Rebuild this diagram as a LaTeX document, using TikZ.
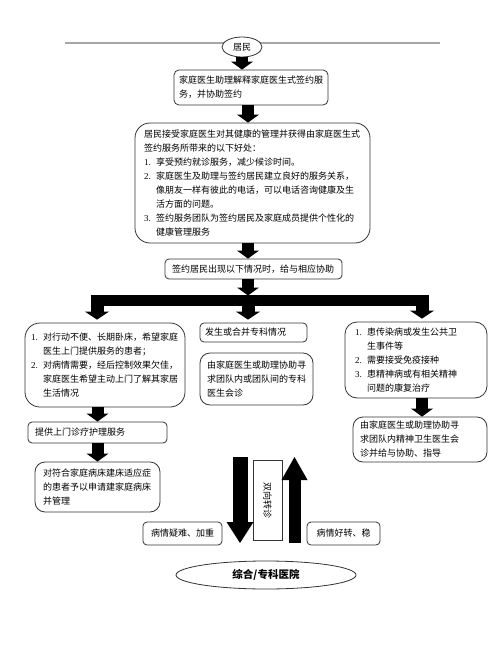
\documentclass[tikz,border=0pt]{standalone}
\usepackage{fontspec}
\setmainfont{Liberation Serif}
\newfontfamily\cjk{Noto Sans CJK SC}
\usetikzlibrary{arrows.meta,shapes.geometric}
\newcommand{\itm}[1]{\makebox[12pt][l]{\rmfamily #1}}
\newcommand{\itmpad}{\hspace*{12pt}}

\begin{document}
\begin{tikzpicture}[x=1pt, y=-1pt,
	info node/.style={draw=black!80, line width=0.8pt, align=left, inner ysep=2pt,
		font=\cjk\fontsize{9}{14}\selectfont},
	oval node/.style={ellipse, draw=black!80, line width=0.8pt, fill=white, inner sep=0pt},
	fat arrow/.style={line width=12pt, -{Triangle[length=8pt, width=22pt, line width=0pt]}},
	bar arrow/.style={line width=13pt, shorten >=3pt, -{Triangle[length=8pt, width=24pt, line width=0pt]}}]
	
	\useasboundingbox (0,0) rectangle (500,647);
	\draw[gray!70, line width=1.6pt] (65,43) -- (440,43);
	
	\node[oval node, minimum width=40pt, minimum height=20pt, font=\cjk\fontsize{9}{11}\selectfont] (1) at (242,47) {居民};
	\node[info node, rounded corners=5pt, text width=144pt, inner xsep=5pt, minimum height=35pt] (2) at (251,87.5)
		{家庭医生助理解释家庭医生式签约服\\务，并协助签约};
	\node[info node, rounded corners=15pt, text width=217pt, inner xsep=9pt, minimum height=120pt] (3) at (252.5,183)
		{居民接受家庭医生对其健康的管理并获得由家庭医生式\\签约服务所带来的以下好处：\\
		\itm{1.}享受预约就诊服务，减少候诊时间。\\
		\itm{2.}家庭医生及助理与签约居民建立良好的服务关系，\\
		\itmpad 像朋友一样有彼此的电话，可以电话咨询健康及生\\
		\itmpad 活方面的问题。\\
		\itm{3.}签约服务团队为签约居民及家庭成员提供个性化的\\
		\itmpad 健康管理服务};
	\node[info node, rounded corners=4pt, text width=163pt, inner xsep=7pt, minimum height=20pt] (4) at (253.5,269)
		{签约居民出现以下情况时，给与相应协助};
	
	% branches
	\node[info node, rounded corners=15pt, text width=148pt, inner xsep=6pt, minimum height=84pt] (5) at (105,365)
		{\itm{1.}对行动不便、长期卧床，希望家庭\\
		\itmpad 医生上门提供服务的患者；\\
		\itm{2.}对病情需要，经后控制效果欠佳，\\
		\itmpad 家庭医生希望主动上门了解其家居\\
		\itmpad 生活情况};
	\node[info node, rounded corners=4pt, text width=97pt, inner xsep=5pt, minimum height=19pt] (6) at (253.5,332.5)
		{发生或合并专科情况};
	\node[info node, rounded corners=10pt, text width=99pt, inner xsep=7pt, minimum height=52pt] (7) at (256.5,379)
		{由家庭医生或助理协助寻\\求团队内或团队间的专科\\医生会诊};
	\node[info node, rounded corners=12pt, text width=122pt, inner xsep=10pt, minimum height=76pt] (8) at (416,360)
		{\itm{1.}患传染病或发生公共卫\\
		\itmpad 生事件等\\
		\itm{2.}需要接受免疫接种\\
		\itm{3.}患精神病或有相关精神\\
		\itmpad 问题的康复治疗};
	\node[info node, rounded corners=4pt, text width=125pt, inner xsep=7pt, minimum height=21pt] (9) at (97.5,432.5)
		{提供上门诊疗护理服务};
	\node[info node, rounded corners=10pt, text width=109pt, inner xsep=8pt, minimum height=50pt] (10) at (97.5,487)
		{对符合家庭病床建床适应症\\的患者予以申请建家庭病床\\并管理};
	\node[info node, rounded corners=10pt, text width=120pt, inner xsep=7pt, minimum height=45pt] (11) at (420,439.5)
		{由家庭医生或助理协助寻\\求团队内精神卫生医生会\\诊并给与协助、指导};
	
	% referral
	\node[info node, rotate=-90, minimum width=80pt, minimum height=29pt, inner sep=0pt] (12) at (267.5,500) {双向转诊};
	\node[info node, rounded corners=4pt, text width=65pt, inner xsep=7pt, minimum height=23pt, align=center] (13) at (182.5,533.5)
		{病情疑难、加重};
	\node[info node, rounded corners=4pt, text width=59pt, inner xsep=7pt, minimum height=23pt, align=center] (14) at (343.5,533.5)
		{病情好转、稳};
	\node[oval node, minimum width=180pt, minimum height=28pt, font=\cjk\bfseries\fontsize{10.5}{12}\selectfont] (15) at (266,575)
		{综合/专科医院};
	
	\coordinate (a) at (97,300.5);
	\coordinate (b) at (248,300.5);
	\coordinate (c) at (422,300.5);
	\coordinate (d1) at (240,457);
	\coordinate (d2) at (240,543);
	\coordinate (u1) at (294.5,543);
	\coordinate (u2) at (294.5,457);
	
	\draw[fat arrow] (1.south) -- (1.south |- 2.north);
	\draw[fat arrow] (2.south -| b) -- (b |- 3.north);
	\draw[fat arrow] (3.south -| b) -- (b |- 4.north);
	\draw[fat arrow, shorten >=5pt] (4.south -| b) -- (b);
	\draw[line width=11pt, shorten <=-6.5pt, shorten >=-6.5pt] (a) -- (c);
	\draw[bar arrow] (a) -- (a |- 5.north);
	\draw[bar arrow] (b) -- (b |- 6.north);
	\draw[bar arrow] (c) -- (c |- 8.north);
	\draw[fat arrow] (9.north |- 5.south) -- (9.north);
	\draw[fat arrow] (9.south) -- (9.south |- 10.north);
	\draw[fat arrow] (c |- 8.south) -- (c |- 11.north);
	\draw[line width=15pt, -{Triangle[length=21pt, width=27pt, line width=0pt]}] (d1) -- (d2);
	\draw[line width=12pt, -{Triangle[length=23pt, width=26pt, line width=0pt]}] (u1) -- (u2);
\end{tikzpicture}
\end{document}
